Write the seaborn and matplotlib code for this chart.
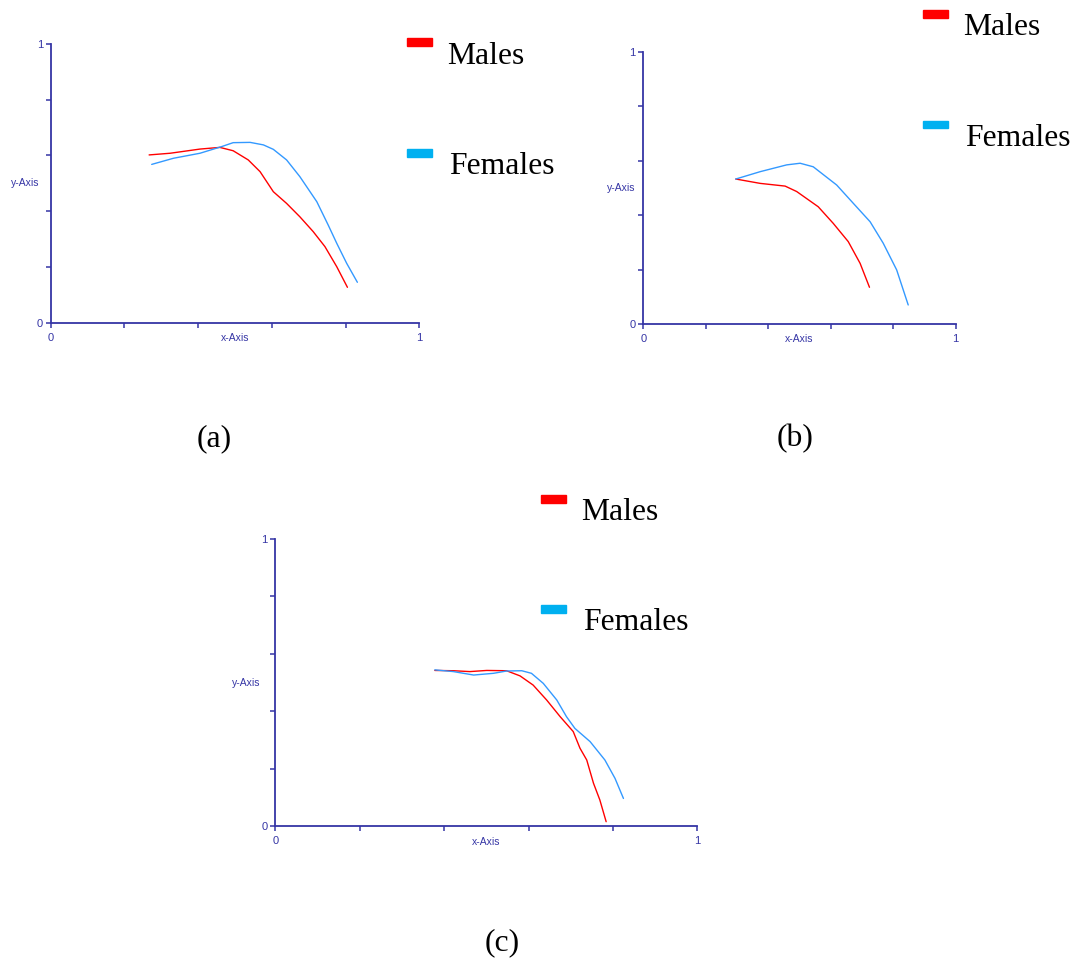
import pandas as pd
import matplotlib.pyplot as plt
import seaborn as sns
from matplotlib.patches import Rectangle

# Curve values (x and y both in 0..1)
series_names = ['Males', 'Females']
line_colors = {'Males': '#FF0000', 'Females': '#3399FF'}
swatch_colors = {'Males': '#FF0000', 'Females': '#00B0F0'}

# panel (a)
a_male_x = [0.267, 0.324, 0.405, 0.459, 0.495, 0.536, 0.568, 0.604, 0.640, 0.676, 0.712, 0.744, 0.776, 0.805]
a_male_y = [0.602, 0.608, 0.623, 0.629, 0.617, 0.584, 0.542, 0.470, 0.428, 0.380, 0.327, 0.273, 0.201, 0.127]
a_female_x = [0.274, 0.333, 0.405, 0.464, 0.495, 0.541, 0.577, 0.604, 0.640, 0.676, 0.722, 0.753, 0.776, 0.803, 0.832]
a_female_y = [0.568, 0.590, 0.608, 0.632, 0.646, 0.647, 0.638, 0.622, 0.584, 0.524, 0.434, 0.350, 0.285, 0.213, 0.145]

# panel (b)
b_male_x = [0.296, 0.374, 0.454, 0.491, 0.560, 0.608, 0.656, 0.694, 0.724]
b_male_y = [0.533, 0.517, 0.507, 0.487, 0.431, 0.370, 0.303, 0.223, 0.135]
b_female_x = [0.296, 0.374, 0.459, 0.502, 0.544, 0.619, 0.672, 0.726, 0.768, 0.811, 0.848]
b_female_y = [0.533, 0.560, 0.585, 0.591, 0.578, 0.511, 0.444, 0.376, 0.297, 0.199, 0.070]

# panel (c)
c_male_x = [0.378, 0.422, 0.461, 0.501, 0.548, 0.580, 0.611, 0.643, 0.675, 0.706, 0.722, 0.738, 0.754, 0.769, 0.784]
c_male_y = [0.542, 0.541, 0.538, 0.542, 0.541, 0.523, 0.491, 0.439, 0.381, 0.329, 0.271, 0.230, 0.149, 0.091, 0.015]
c_female_x = [0.378, 0.422, 0.470, 0.517, 0.548, 0.584, 0.607, 0.635, 0.667, 0.690, 0.710, 0.746, 0.781, 0.805, 0.825]
c_female_y = [0.544, 0.538, 0.526, 0.532, 0.540, 0.541, 0.532, 0.497, 0.439, 0.381, 0.340, 0.294, 0.230, 0.166, 0.096]

captions = ['(a)', '(b)', '(c)']
tick_labels = ['0', '', '', '', '', '1']
tick_values = [0, 0.2, 0.4, 0.6, 0.8, 1]

W, H = 1080, 958
NAVY = '#3535A5'


def make_frame(mx, my, fx, fy):
    parts = []
    for name, xs, ys in [('Males', mx, my), ('Females', fx, fy)]:
        parts.append(pd.DataFrame({'x': xs, 'y': ys, 'sex': name}))
    return pd.concat(parts, ignore_index=True)


panels = [
    # data, axes box in pixels (left, top, right, bottom), legend spot, caption spot
    (make_frame(a_male_x, a_male_y, a_female_x, a_female_y), (50.7, 44, 419.3, 322.7),
     (407, 38.3, 447, 64.3, 149.3, 174), (214, 446.7)),
    (make_frame(b_male_x, b_male_y, b_female_x, b_female_y), (643.3, 52, 955.7, 324),
     (923, 10, 963, 35, 120.7, 145.7), (795, 446.7)),
    (make_frame(c_male_x, c_male_y, c_female_x, c_female_y), (275.3, 539, 697.3, 826),
     (541, 495, 581, 520, 605, 630), (502, 950)),
]

sns.set_theme(style='white')
plt.rcParams['font.family'] = ['Liberation Sans', 'DejaVu Sans']

fig = plt.figure(figsize=(W / 100, H / 100), dpi=100)

for i, (df, box, leg, cap) in enumerate(panels):
    l, t, r, b = box
    ax = fig.add_axes([l / W, 1 - b / H, (r - l) / W, (b - t) / H])
    sns.lineplot(data=df, x='x', y='y', hue='sex', hue_order=series_names,
                 palette=line_colors, estimator=None, linewidth=1.0,
                 legend=False, ax=ax)
    ax.set_xlim(0, 1)
    ax.set_ylim(0, 1)
    ax.set_xticks(tick_values)
    ax.set_yticks(tick_values)
    ax.set_xticklabels(tick_labels)
    ax.set_yticklabels(tick_labels)
    ax.tick_params(axis='both', direction='out', length=3.5, width=1.1,
                   color=NAVY, labelcolor=NAVY, labelsize=8, pad=2,
                   bottom=True, left=True)
    ax.xaxis.set_tick_params(pad=4)
    for side in ['top', 'right']:
        ax.spines[side].set_visible(False)
    for side in ['left', 'bottom']:
        ax.spines[side].set_color(NAVY)
        ax.spines[side].set_linewidth(1.3)
    ax.set_xlabel('')
    ax.set_ylabel('')
    ax.set_facecolor('none')
    # axis names sit on the tick-label line
    ax.text(0.5, -0.055, 'x-Axis', transform=ax.transAxes, ha='center', va='center',
            fontsize=7.5, color=NAVY)
    ax.text(-0.07, 0.5, 'y-Axis', transform=ax.transAxes, ha='center', va='center',
            fontsize=7.5, color=NAVY)

    # legend swatches and labels
    sx, sy_m, tx, by_m, sy_f, by_f = leg
    for name, sy, by, dx in [('Males', sy_m, by_m, 0), ('Females', sy_f, by_f, 2)]:
        fig.patches.append(Rectangle((sx / W, 1 - (sy + 7.5) / H), 25 / W, 7.5 / H,
                                     transform=fig.transFigure, color=swatch_colors[name]))
        fig.text((tx + dx) / W, 1 - by / H, name, ha='left', va='baseline',
                 fontsize=22.8, family=['Liberation Serif', 'DejaVu Serif'], color='black')

    fig.text(cap[0] / W, 1 - cap[1] / H, captions[i], ha='center', va='baseline',
             fontsize=22.8, family=['Liberation Serif', 'DejaVu Serif'], color='black')

fig.savefig('out.png', dpi=100, facecolor='white')
